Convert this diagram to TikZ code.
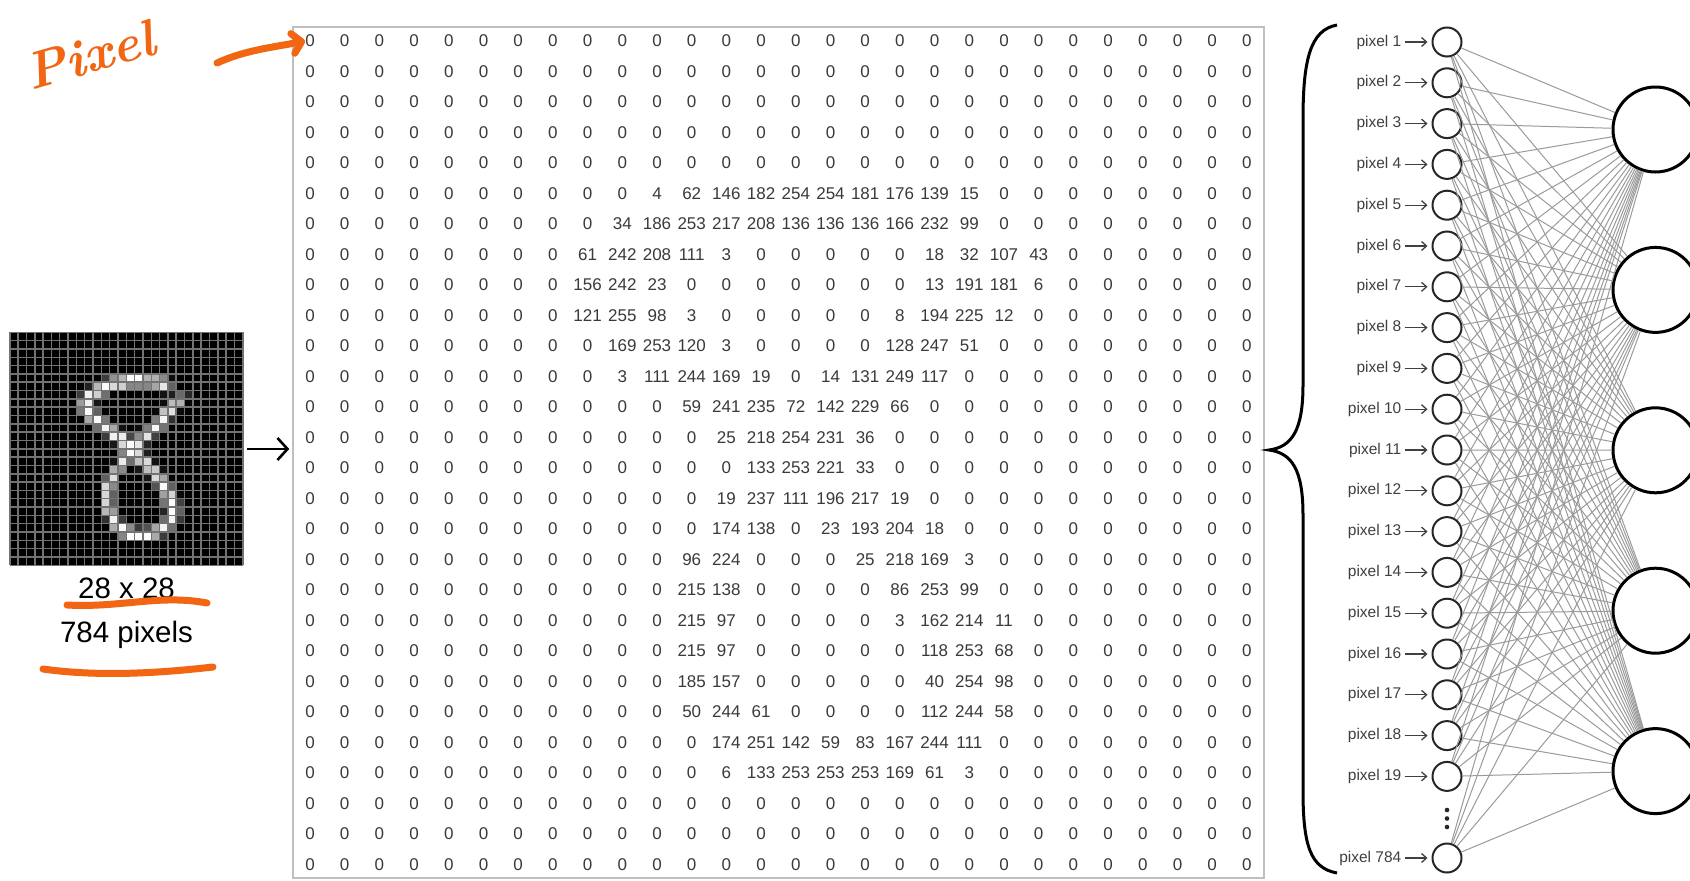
\documentclass[tikz,border=0pt]{standalone}
\usepackage{fontspec}
\newfontfamily\arialfont{Liberation Sans}
\usepackage{tikz}
\usetikzlibrary{arrows.meta,positioning}
\definecolor{penorange}{RGB}{242,101,19}
\definecolor{numgray}{RGB}{58,58,58}
\definecolor{edgegray}{RGB}{155,155,155}
\definecolor{cellgray}{RGB}{115,115,115}
\def\digitrows{5/{0,0,4,62,146,182,254,254,181,176,139,15,0,0,0},
6/{0,34,186,253,217,208,136,136,136,166,232,99,0,0,0},
7/{61,242,208,111,3,0,0,0,0,0,18,32,107,43,0},
8/{156,242,23,0,0,0,0,0,0,0,13,191,181,6,0},
9/{121,255,98,3,0,0,0,0,0,8,194,225,12,0,0},
10/{0,169,253,120,3,0,0,0,0,128,247,51,0,0,0},
11/{0,3,111,244,169,19,0,14,131,249,117,0,0,0,0},
12/{0,0,0,59,241,235,72,142,229,66,0,0,0,0,0},
13/{0,0,0,0,25,218,254,231,36,0,0,0,0,0,0},
14/{0,0,0,0,0,133,253,221,33,0,0,0,0,0,0},
15/{0,0,0,0,19,237,111,196,217,19,0,0,0,0,0},
16/{0,0,0,0,174,138,0,23,193,204,18,0,0,0,0},
17/{0,0,0,96,224,0,0,0,25,218,169,3,0,0,0},
18/{0,0,0,215,138,0,0,0,0,86,253,99,0,0,0},
19/{0,0,0,215,97,0,0,0,0,3,162,214,11,0,0},
20/{0,0,0,215,97,0,0,0,0,0,118,253,68,0,0},
21/{0,0,0,185,157,0,0,0,0,0,40,254,98,0,0},
22/{0,0,0,50,244,61,0,0,0,0,112,244,58,0,0},
23/{0,0,0,0,174,251,142,59,83,167,244,111,0,0,0},
24/{0,0,0,0,6,133,253,253,253,169,61,3,0,0,0}}

\begin{document}
\begin{tikzpicture}[x=1pt, y=1pt, >=Latex]
\tikzstyle{num}=[font=\arialfont\fontsize{17}{20}\selectfont, text=numgray, inner sep=0pt]
\tikzstyle{inp}=[circle, draw=black!85, line width=2pt, minimum size=29pt, inner sep=0pt]
\tikzstyle{outp}=[circle, draw=black, line width=3pt, minimum size=85pt, inner sep=0pt]
\tikzstyle{lab}=[font=\arialfont\fontsize{15.5}{18}\selectfont, text=black!75, inner sep=0pt]
\tikzstyle{edge}=[draw=edgegray, line width=1pt]
\tikzstyle{pen}=[draw=penorange, line width=7pt, line cap=round]
\tikzstyle{big}=[font=\arialfont\fontsize{29.5}{32}\selectfont, anchor=base, inner sep=0pt]
\useasboundingbox (0,0) rectangle (1690,-881);
\fill[white] (0,0) rectangle (1690,-881);
\node[minimum size=233pt, inner sep=0pt, fill=black] (img) at (126.5,-449) {};
\begin{scope}[shift={(img.north west)}, x=8.3214pt, y=-8.3214pt]
\foreach \ri/\vals in \digitrows
  \foreach \val [count=\ci from 8] in \vals {
    \ifnum\val>0
      \pgfmathtruncatemacro\lvl{\val/2.55}
      \fill[white!\lvl!black] (\ci,\ri) rectangle ++(1,1);
    \fi}
\foreach \k in {0,...,28}
  \draw[cellgray, line width=1.5pt] (\k,0) -- (\k,28) (0,\k) -- (28,\k);
\end{scope}
\node[big] (sizetxt) at (126.5,-598) {28 x 28};
\node[big] (counttxt) at (126.5,-642) {784 pixels};
\node[draw=black!25, line width=1.5pt, minimum width=971pt, minimum height=851pt, inner sep=0pt] (grid) at (778.5,-452.5) {};
\foreach \ri in {0,...,27}
  \foreach \ci in {0,...,27} {
    \pgfmathtruncatemacro\indata{and(and(\ri>4,\ri<25),and(\ci>7,\ci<23))}
    \ifnum\indata=0
      \node[num] (m-\ri-\ci) at (310+34.7*\ci,-41-30.5*\ri) {0};
    \fi}
\foreach \ri/\vals in \digitrows
  \foreach \val [count=\ci from 8] in \vals
    \node[num] (m-\ri-\ci) at (310+34.7*\ci,-41-30.5*\ri) {\val};
\draw[line width=2.6pt, shorten <=4pt, shorten >=3pt, -{Straight Barb[length=10pt,width=22pt]}] (img.east) -- (img.east -| grid.west);
\draw[line width=3pt] (1337,-25) .. controls (1310,-30) and (1303,-60) .. (1303,-120) -- (1303,-385)
  .. controls (1303,-430) and (1292,-447) .. (1269,-450) .. controls (1292,-453) and (1303,-470) .. (1303,-515)
  -- (1303,-790) .. controls (1303,-845) and (1310,-868) .. (1337,-873);
\foreach \k in {1,...,19}
  \node[inp] (in-\k) at (1447,{-42-40.8*(\k-1)}) {};
\node[inp] (in-784) at (1447,-858) {};
\foreach \d in {810,818.5,827}
  \fill[black!85] (1447,-\d) circle (2.3pt);
\foreach \k in {1,...,5}
  \node[outp] (out-\k) at (1655.5,{-129.5-160.4*(\k-1)}) {};
\foreach \a in {1,...,19,784}
  \foreach \b in {1,...,5}
    \draw[edge] (in-\a) -- (out-\b);
\foreach \k in {1,...,19,784} {
  \node[lab, left=30pt of in-\k] (lab-\k) {pixel \k};
  \draw[black!75, line width=1.3pt, shorten <=3pt, shorten >=4pt, -{Straight Barb[length=5pt,width=9pt]}] (lab-\k) -- (in-\k);
}
\node[font=\itshape\bfseries\fontsize{52}{52}\selectfont, text=penorange, rotate=16] (pixtag) at (90,-55) {Pixel};
\coordinate (pentail) at (217,-63);
\draw[pen, -{Straight Barb[length=9pt,width=20pt,round]}] (pentail) .. controls (245,-50) and (275,-47) .. (m-0-0.west);
\draw[pen] (67,-605) .. controls (120,-608) and (160,-594) .. (207,-603);
\draw[pen] (43,-669) .. controls (100,-677) and (160,-673) .. (213,-667);
\end{tikzpicture}
\end{document}
